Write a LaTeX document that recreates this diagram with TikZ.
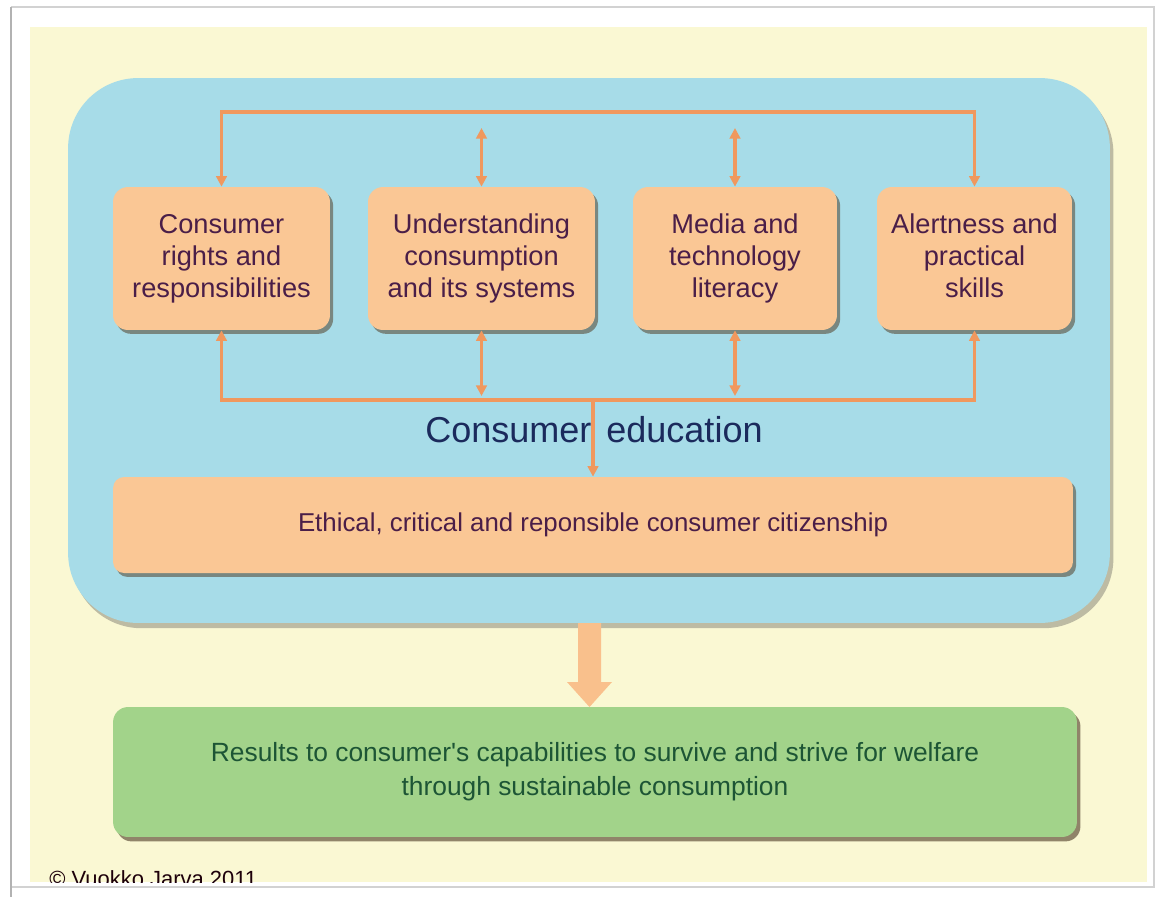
\documentclass[tikz,border=0pt]{standalone}
\usepackage{fontspec}
\setmainfont{Liberation Sans}
\usetikzlibrary{shadows,arrows.meta,calc}
\definecolor{ybg}{HTML}{FAF8D3}
\definecolor{bluefill}{HTML}{A7DCE8}
\definecolor{orangefill}{HTML}{FAC795}
\definecolor{oline}{HTML}{F0985E}
\definecolor{otext}{HTML}{4A1E48}
\definecolor{navy}{HTML}{1B2A5C}
\definecolor{greenfill}{HTML}{A2D38A}
\definecolor{gtext}{HTML}{1D5535}
\definecolor{bigarrowfill}{HTML}{F9C08C}
\begin{document}
\begin{tikzpicture}[x=0.02cm,y=-0.02cm,
  orangebox/.style={fill=orangefill, rounded corners=0.3cm,
    drop shadow={shadow xshift=1.8pt,shadow yshift=-2.2pt,opacity=0.5,fill=black!60!brown},
    align=center, font=\fontsize{15.5}{18.3}\selectfont, text=otext, inner sep=2pt},
  greenbox/.style={fill=greenfill, rounded corners=0.3cm,
    drop shadow={shadow xshift=2pt,shadow yshift=-2.5pt,opacity=0.55,fill=black!70!brown},
    align=center, font=\fontsize{15}{19.3}\selectfont, text=gtext},
  bluebox/.style={fill=bluefill, rounded corners=1.4cm,
    drop shadow={shadow xshift=2pt,shadow yshift=-3pt,opacity=0.35,fill=black!70}},
  conn/.style={draw=oline, line width=2pt},
  tipo/.tip={Triangle[length=6pt,width=6pt]}
]
\useasboundingbox (0,0) rectangle (1161,897);
\fill[white] (0,0) rectangle (1161,897);
% frame
\draw[gray!35, line width=0.8pt] (11,7) -- (1154,7) -- (1154,887) -- (11,887);
\draw[gray!60, line width=1.2pt] (11,7) -- (11,897);
% yellow background
\fill[ybg] (30,27) rectangle (1147,882);
% blue container
\node[bluebox, minimum width=20.84cm, minimum height=10.9cm] (blue) at (589,350.5) {};
% four boxes
\node[orangebox, minimum width=4.34cm, minimum height=2.86cm] (b1) at (221.5,258.5)
  {Consumer\\rights and\\responsibilities};
\node[orangebox, minimum width=4.54cm, minimum height=2.86cm] (b2) at (481.5,258.5)
  {Understanding\\consumption\\and its systems};
\node[orangebox, minimum width=4.08cm, minimum height=2.86cm] (b3) at (735,258.5)
  {Media and\\technology\\literacy};
\node[orangebox, minimum width=3.9cm, minimum height=2.86cm] (b4) at (974.5,258.5)
  {Alertness and\\practical\\skills\vphantom{y}};
% ethical box
\node[orangebox, rounded corners=0.22cm, minimum width=19.2cm, minimum height=1.92cm,
  font=\fontsize{14.7}{18}\selectfont] (eth) at (593,525)
  {Ethical, critical and reponsible consumer citizenship};
% consumer education label
\node[font=\fontsize{20.5}{24}\selectfont, text=navy, inner sep=0pt] (ce) at (594,430)
  {Consumer\hspace{8.5pt}education};
% top connectors
\coordinate (t1) at (b1.north |- 0,112);
\coordinate (t4) at (b4.north |- 0,112);
\coordinate (t2) at (b2.north |- 0,128);
\coordinate (t3) at (b3.north |- 0,128);
\draw[conn, tipo-tipo] (b1.north) -- (t1) -- (t4) -- (b4.north);
\draw[conn, tipo-tipo] (t2) -- (b2.north);
\draw[conn, tipo-tipo] (t3) -- (b3.north);
% bottom connectors
\coordinate (u1) at (b1.south |- 0,400);
\coordinate (u4) at (b4.south |- 0,400);
\coordinate (u2) at (b2.south |- 0,396);
\coordinate (u3) at (b3.south |- 0,396);
\coordinate (uc) at (eth.north |- 0,400);
\draw[conn, tipo-tipo] (b1.south) -- (u1) -- (u4) -- (b4.south);
\draw[conn, tipo-tipo] (b2.south) -- (u2);
\draw[conn, tipo-tipo] (b3.south) -- (u3);
\draw[conn, -tipo] (uc) -- (eth.north);
% green box
\node[greenbox, minimum width=19.28cm, minimum height=2.6cm] (res) at (595,772)
  {Results to consumer\textquotesingle s capabilities to survive and strive for welfare\\through sustainable consumption};
% big arrow
\fill[bigarrowfill] (578,623) -- (601,623) -- (601,682) -- (612,682) -- (589.5,707)
  -- (567,682) -- (578,682) -- cycle;
% copyright
\begin{scope}
\clip (30,27) rectangle (1147,882);
\node[anchor=base west, font=\fontsize{12.5}{14}\selectfont, text=black!85!purple, inner sep=0pt] (copy) at (49,886)
  {\textcopyright\ Vuokko Jarva 2011};
\end{scope}
\end{tikzpicture}
\end{document}
